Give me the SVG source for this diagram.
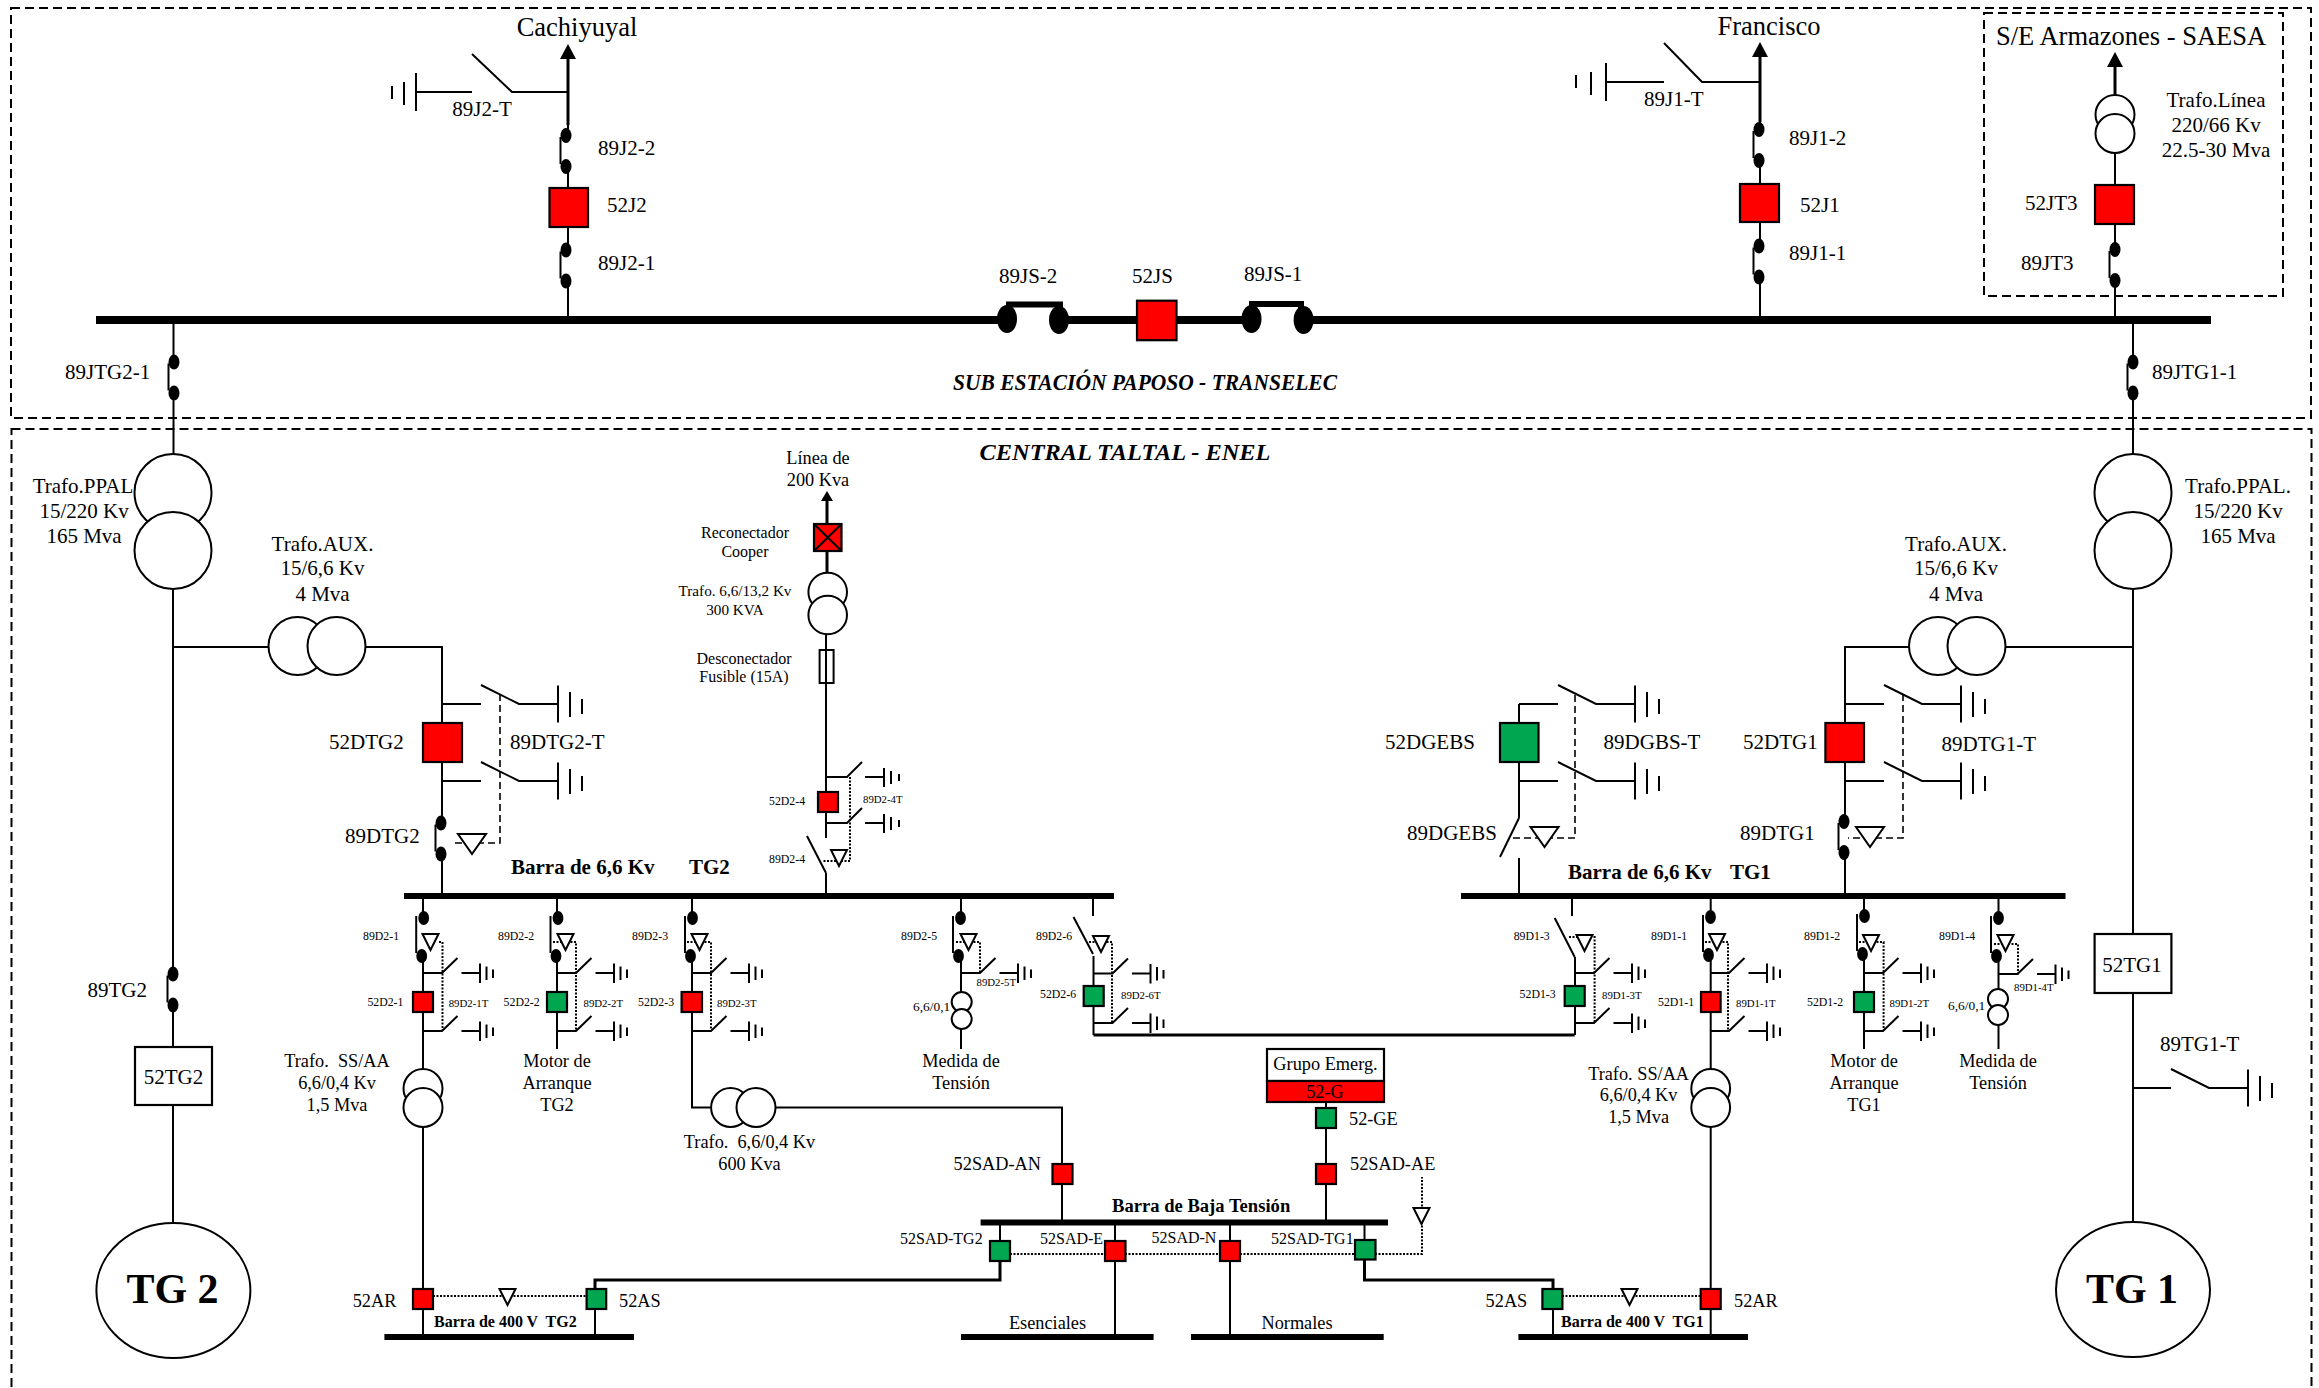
<svg xmlns="http://www.w3.org/2000/svg" xmlns:xlink="http://www.w3.org/1999/xlink" width="2319" height="1388" viewBox="0 0 2319 1388">
<style>
text{font-family:"Liberation Serif","Times New Roman",serif;fill:#000;white-space:pre}
.f26{font-size:26.5px}.f21{font-size:21px}.f18{font-size:18.3px}.f16{font-size:16px}.f15{font-size:15.2px}.f13{font-size:13.4px}.f11{font-size:11.8px}.f10{font-size:10.8px}
.b{font-weight:bold}.bi{font-weight:bold;font-style:italic}.m{text-anchor:middle}
.w{stroke:#000;stroke-width:2;fill:none}.w3{stroke:#000;stroke-width:3;fill:none}
.bus8{stroke:#000;stroke-width:8;fill:none}.bus6{stroke:#000;stroke-width:6;fill:none}
.frame{stroke:#000;stroke-width:2;fill:none;stroke-dasharray:9 5}
.dash{stroke:#000;stroke-width:1.6;fill:none;stroke-dasharray:7 4}
.dot{stroke:#000;stroke-width:2;fill:none;stroke-dasharray:2 1.5}
.red{fill:#f00;stroke:#000;stroke-width:2.2}.green{fill:#00a650;stroke:#000;stroke-width:2.2}.box{fill:#fff;stroke:#000;stroke-width:2.2}
.tr{fill:#fff;stroke:#000;stroke-width:2}.k{fill:#000}
</style>
<defs>
<marker id="arrL" markerUnits="userSpaceOnUse" markerWidth="15" markerHeight="16" refX="0" refY="8" orient="auto"><path d="M0 0L15 8L0 16z"/></marker>
<marker id="arrS" markerUnits="userSpaceOnUse" markerWidth="10" markerHeight="12" refX="0" refY="6" orient="auto"><path d="M0 0L10 6L0 12z"/></marker>
<g id="disc"><ellipse class="k" cx="0" cy="-15.5" rx="5.5" ry="7.5"/><ellipse class="k" cx="0" cy="15.5" rx="5.5" ry="7.5"/><path class="w" d="M-5.5 -14V13"/></g>
<g id="discS"><ellipse class="k" cx="1" cy="-19" rx="5.4" ry="7"/><ellipse class="k" cx="-1" cy="19" rx="5.4" ry="7"/><path class="w" d="M-6.5 -21V16"/></g>
<polygon id="triL" class="tr" points="-14,0 14,0 0,20"/>
<polygon id="triS" class="tr" points="-8,0 8,0 0,16"/>
<g id="swL"><path class="w" d="M0 0H39M39 -19L77 0H116M116 -18.5V18.5M128 -12V13M140 -5V10"/></g>
<g id="swS"><path class="w" d="M0 0H19L34.5 -15M38.5 0H57M57 -9.5V10M63.5 -6.5V7M70 -3.5V5"/></g>
</defs>
<g id="frames">
<rect class="frame" x="11" y="8" width="2300" height="410"/>
<rect class="frame" x="11.5" y="429" width="2300" height="1000"/>
<rect class="frame" x="1984" y="13" width="299" height="283"/>
</g>
<g id="connectors">
<path class="bus8" d="M96 320H1000M1065 320H1137M1176 320H1246M1310 320H2211"/>
<path class="bus6" d="M404 896H1114M1461 896H2065.5M980.6 1222.5H1388M384.4 1337H634M1518.4 1337H1748M961 1337H1153.6M1191 1337H1383.7"/>
<path class="w3" d="M568 125V59" marker-end="url(#arrL)"/>
<path class="w3" d="M1760 122V57" marker-end="url(#arrL)"/>
<path class="w3" d="M2115 95V67" marker-end="url(#arrL)"/>
<path class="w3" d="M827 524V501" marker-end="url(#arrS)"/>
<path class="w" d="M568 125V135M568 167V188M568 227V250M568 281V316M1760 122V129M1760 161V184M1760 222V246M1760 277V316M2115 153V185M2115 224V249M2115 281V316"/>
<path class="w" d="M173.5 324V362M173.5 393V454M173 589V974M173 1005V1047M173 1105V1223M173 647H269M365 647H442V723M442 762V823M442 854V893"/>
<path class="w" d="M2133 324V362M2133 393V454M2133 589V934M2133 993V1222M2133 647H2005M1909 647H1845V723M1845 762V821M1845 853V893"/>
<path class="w" d="M1519 704V723M1519 762V818M1519 858V893"/>
<path class="w3" d="M827 551V573"/>
<path class="w" d="M826 634V838M826 873V893"/>
<path class="w" d="M423 899V918M423 956V992M423 1012V1069M423 1127V1289M423 1309V1334M557 899V918M557 956V992M557 1012V1049M692 899V918M692 956V992M692 1012V1107.5H711M775.5 1107.5H1062V1164M1062 1184V1220M961 899V918M961 956V992M961 1029V1049M1093 899V916M1093.5 956V986M1093.5 1006V1035"/>
<path class="w3" d="M1093.5 1035H1574.7"/>
<path class="w" d="M1572 899V916M1575 957V986M1575 1006V1035M1710.7 899V916M1710.7 956V992M1710.7 1012V1069M1710.7 1127V1289M1710.7 1309V1334M1864 899V916M1864 954V992M1864 1012V1049M1998.5 899V918M1998.5 956V989M1998.5 1024V1049"/>
<path class="w" d="M1326 1102V1108M1326 1128V1164M1326 1184V1220M1000 1225V1241M1115 1225V1241M1115 1261V1334M1230 1225V1241M1230 1261V1334M1364.5 1225V1240M595 1309V1334M1553 1309V1334"/>
<path class="w3" d="M1000 1261V1280H595V1289M1364.5 1259V1280H1553V1289"/>
<path class="dash" d="M500 694V843H451M1575 695V838H1513M1903 694V838H1848"/>
<path class="dot" d="M850 777V861H823M439 942H442.5V1030M553 942H576V1030M687 942H711V1030M956 942H980V973M1089 942H1112V1023M1569 937H1594.6V1023M1705 942H1728V1031M1859 942H1883.6V1031M1994 944H2018V975"/>
<path class="dot" d="M433 1296H586.6M1562 1296H1700.7M1010 1254H1105M1125 1254H1220M1240 1254H1355M1375 1254H1422V1177"/>
</g>
<g id="n-cachiyuyal"><text class="f26 m" x="577" y="36">Cachiyuyal</text></g>
<g id="n-89J2-T"><path class="w" d="M568 92H512L472 54M472 92H416M416 73V111M404 82V105M392 86V99"/><text class="f21 m" x="482" y="116">89J2-T</text></g>
<g id="n-89J2-2"><use href="#disc" xlink:href="#disc" x="566" y="151"/><text class="f21" x="598" y="155">89J2-2</text></g>
<g id="n-52J2"><rect class="red" x="549.5" y="188" width="38.5" height="39"/><text class="f21" x="607" y="212">52J2</text></g>
<g id="n-89J2-1"><use href="#disc" xlink:href="#disc" x="566" y="265.5"/><text class="f21" x="598" y="270">89J2-1</text></g>
<g id="n-89JTG2-1"><use href="#disc" xlink:href="#disc" x="174" y="377.5"/><text class="f21" x="65" y="379">89JTG2-1</text></g>
<g id="n-89JS-2"><ellipse class="k" cx="1007" cy="319" rx="10" ry="14"/><ellipse class="k" cx="1059" cy="320" rx="10" ry="14"/><path class="w" style="stroke-width:6" d="M1009 312V304.5H1060V312"/><text class="f21" x="999" y="283">89JS-2</text></g>
<g id="n-52JS"><rect class="red" x="1137" y="300.7" width="39.5" height="39.5"/><text class="f21" x="1132" y="283">52JS</text></g>
<g id="n-89JS-1"><ellipse class="k" cx="1251.5" cy="319" rx="10" ry="14"/><ellipse class="k" cx="1303.6" cy="320" rx="10" ry="14"/><path class="w" style="stroke-width:6" d="M1252 312V304H1301V312"/><text class="f21" x="1244" y="281">89JS-1</text></g>
<g id="n-paposo"><text class="bi" style="font-size:23px" x="953" y="390" textLength="384" lengthAdjust="spacingAndGlyphs">SUB ESTACIÓN PAPOSO - TRANSELEC</text></g>
<g id="n-taltal"><text class="bi" style="font-size:24px" x="979.5" y="460" textLength="291" lengthAdjust="spacingAndGlyphs">CENTRAL TALTAL - ENEL</text></g>
<g id="n-francisco"><text class="f26 m" x="1769" y="35">Francisco</text></g>
<g id="n-89J1-T"><path class="w" d="M1760 82H1702L1664 43M1664 82H1606M1606 63V101M1591 72V95M1576 75V88"/><text class="f21" x="1644" y="106">89J1-T</text></g>
<g id="n-89J1-2"><use href="#disc" xlink:href="#disc" x="1759" y="145"/><text class="f21" x="1789" y="145">89J1-2</text></g>
<g id="n-52J1"><rect class="red" x="1740" y="184" width="39" height="38"/><text class="f21" x="1800" y="212">52J1</text></g>
<g id="n-89J1-1"><use href="#disc" xlink:href="#disc" x="1759" y="261.5"/><text class="f21" x="1789" y="260">89J1-1</text></g>
<g id="n-armazones"><text class="f26" x="1996" y="45">S/E Armazones - SAESA</text></g>
<g id="n-trafo-linea"><circle class="tr" cx="2115" cy="114.5" r="19.5"/><circle class="tr" cx="2115" cy="133.5" r="19.5"/><text class="f21 m" x="2216" y="107">Trafo.Línea</text><text class="f21 m" x="2216" y="132">220/66 Kv</text><text class="f21 m" x="2216" y="157">22.5-30 Mva</text></g>
<g id="n-52JT3"><rect class="red" x="2095" y="185" width="39" height="39"/><text class="f21" x="2025" y="210">52JT3</text></g>
<g id="n-89JT3"><use href="#disc" xlink:href="#disc" x="2115" y="265"/><text class="f21" x="2021" y="270">89JT3</text></g>
<g id="n-89JTG1-1"><use href="#disc" xlink:href="#disc" x="2133" y="377.5"/><text class="f21" x="2152" y="379">89JTG1-1</text></g>
<g id="n-trafo-ppal-2"><circle class="tr" cx="173" cy="492.5" r="38.5"/><circle class="tr" cx="173" cy="550.5" r="38.5"/><text class="f21 m" x="83" y="493">Trafo.PPAL</text><text class="f21 m" x="84" y="518">15/220 Kv</text><text class="f21 m" x="84" y="543">165 Mva</text></g>
<g id="n-trafo-ppal-1"><circle class="tr" cx="2133" cy="492.5" r="38.5"/><circle class="tr" cx="2133" cy="550.5" r="38.5"/><text class="f21 m" x="2238" y="493">Trafo.PPAL.</text><text class="f21 m" x="2238" y="518">15/220 Kv</text><text class="f21 m" x="2238" y="543">165 Mva</text></g>
<g id="n-trafo-aux-2"><circle class="tr" cx="297.5" cy="646" r="29"/><circle class="tr" cx="336.5" cy="646" r="29"/><text class="f21 m" x="322.5" y="551">Trafo.AUX.</text><text class="f21 m" x="322.5" y="575">15/6,6 Kv</text><text class="f21 m" x="322.5" y="601">4 Mva</text></g>
<g id="n-trafo-aux-1"><circle class="tr" cx="1938" cy="646" r="29"/><circle class="tr" cx="1976.5" cy="646" r="29"/><text class="f21 m" x="1956" y="551">Trafo.AUX.</text><text class="f21 m" x="1956" y="575">15/6,6 Kv</text><text class="f21 m" x="1956" y="601">4 Mva</text></g>
<g id="n-52DTG2"><rect class="red" x="423" y="723" width="39" height="39"/><text class="f21" x="329" y="749">52DTG2</text></g>
<g id="n-89DTG2-T"><use href="#swL" xlink:href="#swL" x="442" y="704"/><use href="#swL" xlink:href="#swL" x="442" y="781"/><text class="f21" x="510" y="749">89DTG2-T</text></g>
<g id="n-89DTG2"><use href="#disc" xlink:href="#disc" x="441" y="838.5"/><use href="#triL" xlink:href="#triL" x="472" y="834"/><text class="f21" x="345" y="843">89DTG2</text></g>
<g id="n-52DGEBS"><rect class="green" x="1500" y="723" width="38.5" height="39"/><text class="f21" x="1385" y="749">52DGEBS</text></g>
<g id="n-89DGBS-T"><use href="#swL" xlink:href="#swL" x="1519" y="704"/><use href="#swL" xlink:href="#swL" x="1519" y="781"/><text class="f21" x="1603.6" y="749">89DGBS-T</text></g>
<g id="n-89DGEBS"><path class="w" d="M1519 818L1500 857"/><use href="#triL" xlink:href="#triL" x="1544.5" y="827"/><text class="f21" x="1407" y="840">89DGEBS</text></g>
<g id="n-52DTG1"><rect class="red" x="1825.4" y="723" width="38.6" height="39"/><text class="f21" x="1743" y="749">52DTG1</text></g>
<g id="n-89DTG1-T"><use href="#swL" xlink:href="#swL" x="1845" y="704"/><use href="#swL" xlink:href="#swL" x="1845" y="781"/><text class="f21" x="1941.5" y="751">89DTG1-T</text></g>
<g id="n-89DTG1"><use href="#disc" xlink:href="#disc" x="1844" y="837"/><use href="#triL" xlink:href="#triL" x="1870" y="827"/><text class="f21" x="1740" y="840">89DTG1</text></g>
<g id="n-linea-200"><text class="f18 m" x="818" y="464">Línea de</text><text class="f18 m" x="818" y="486">200 Kva</text></g>
<g id="n-reconectador"><rect class="red" x="814" y="524" width="27.5" height="27"/><path class="w" d="M814 524L841.5 551M841.5 524L814 551"/><text class="f16 m" x="745" y="538">Reconectador</text><text class="f16 m" x="745" y="557">Cooper</text></g>
<g id="n-trafo-13"><circle class="tr" cx="827.7" cy="592" r="19.3"/><circle class="tr" cx="827.7" cy="615" r="19.3"/><text class="f15 m" x="735" y="596">Trafo. 6,6/13,2 Kv</text><text class="f15 m" x="735" y="615">300 KVA</text></g>
<g id="n-fusible"><rect class="w" x="819.6" y="650" width="14" height="33"/><text class="f16 m" x="744" y="664">Desconectador</text><text class="f16 m" x="744" y="682">Fusible (15A)</text></g>
<g id="n-52D2-4"><rect class="red" x="818" y="792" width="20" height="20"/><text class="f11" x="769" y="805">52D2-4</text></g>
<g id="n-89D2-4T"><path class="w" d="M826 777H847L862 762M865 777H884M884 768V787M891 771V784M899 774V781M826 823H847L862 808M865 823H884M884 814V833M891 817V830M899 820V827"/><text class="f10" x="863" y="803">89D2-4T</text></g>
<g id="n-89D2-4"><path class="w" d="M807 836L826 873"/><use href="#triS" xlink:href="#triS" x="839" y="850"/><text class="f11" x="769" y="863">89D2-4</text></g>
<g id="n-89TG2"><use href="#disc" xlink:href="#disc" x="173" y="989.5"/><text class="f21" x="87.5" y="997">89TG2</text></g>
<g id="n-52TG2"><rect class="box" x="135" y="1047" width="77" height="58"/><text class="f21 m" x="173.5" y="1084">52TG2</text></g>
<g id="n-TG2"><ellipse class="tr" cx="173.4" cy="1290.5" rx="77" ry="67.5"/><text class="b m" style="font-size:42px" x="172.5" y="1303">TG 2</text></g>
<g id="n-TG1"><ellipse class="tr" cx="2133" cy="1289.5" rx="77" ry="67.5"/><text class="b m" style="font-size:42px" x="2132" y="1303">TG 1</text></g>
<g id="n-52TG1"><rect class="box" x="2094.6" y="934" width="76.8" height="59"/><text class="f21 m" x="2132" y="972">52TG1</text></g>
<g id="n-89TG1-T"><use href="#swL" xlink:href="#swL" x="2132" y="1088"/><text class="f21" x="2160" y="1051">89TG1-T</text></g>
<g id="n-barra-tg2"><text class="f21 b" x="511" y="874">Barra de 6,6 Kv</text><text class="f21 b" x="689" y="874">TG2</text></g>
<g id="n-barra-tg1"><text class="f21 b" x="1568" y="879">Barra de 6,6 Kv</text><text class="f21 b" x="1730" y="879">TG1</text></g>
<g id="n-89D2-1"><use href="#discS" xlink:href="#discS" x="422.7" y="937"/><use href="#triS" xlink:href="#triS" x="430.5" y="934"/><text class="f11" x="363" y="940">89D2-1</text></g>
<g id="n-52D2-1"><rect class="red" x="413" y="992" width="20" height="20"/><text class="f11" x="367.4" y="1006">52D2-1</text></g>
<g id="n-89D2-1T"><use href="#swS" xlink:href="#swS" x="423" y="973"/><use href="#swS" xlink:href="#swS" x="423" y="1031"/><text class="f10" x="448.7" y="1007">89D2-1T</text></g>
<g id="n-trafo-ss-2"><circle class="tr" cx="423" cy="1088.5" r="19.5"/><circle class="tr" cx="423" cy="1107.5" r="19.5"/><text class="f18 m" x="337" y="1067">Trafo.  SS/AA</text><text class="f18 m" x="337" y="1089">6,6/0,4 Kv</text><text class="f18 m" x="337" y="1111">1,5 Mva</text></g>
<g id="n-89D2-2"><use href="#discS" xlink:href="#discS" x="557" y="937"/><use href="#triS" xlink:href="#triS" x="565.5" y="934"/><text class="f11" x="498" y="940">89D2-2</text></g>
<g id="n-52D2-2"><rect class="green" x="547" y="992" width="20" height="20"/><text class="f11" x="503.6" y="1006">52D2-2</text></g>
<g id="n-89D2-2T"><use href="#swS" xlink:href="#swS" x="557" y="973"/><use href="#swS" xlink:href="#swS" x="557" y="1031"/><text class="f10" x="583.5" y="1007">89D2-2T</text></g>
<g id="n-motor-2"><text class="f18 m" x="557" y="1067">Motor de</text><text class="f18 m" x="557" y="1089">Arranque</text><text class="f18 m" x="557" y="1111">TG2</text></g>
<g id="n-89D2-3"><use href="#discS" xlink:href="#discS" x="691.5" y="937"/><use href="#triS" xlink:href="#triS" x="699.5" y="934"/><text class="f11" x="632" y="940">89D2-3</text></g>
<g id="n-52D2-3"><rect class="red" x="681.6" y="992" width="20.4" height="20"/><text class="f11" x="638" y="1006">52D2-3</text></g>
<g id="n-89D2-3T"><use href="#swS" xlink:href="#swS" x="692" y="973"/><use href="#swS" xlink:href="#swS" x="692" y="1031"/><text class="f10" x="717" y="1007">89D2-3T</text></g>
<g id="n-trafo-600"><circle class="tr" cx="730.6" cy="1107.5" r="19.5"/><circle class="tr" cx="756" cy="1107.5" r="19.5"/><text class="f18 m" x="749.5" y="1148">Trafo.  6,6/0,4 Kv</text><text class="f18 m" x="749.5" y="1170">600 Kva</text></g>
<g id="n-89D2-5"><use href="#discS" xlink:href="#discS" x="959.5" y="937"/><use href="#triS" xlink:href="#triS" x="968.5" y="934"/><text class="f11" x="901" y="940">89D2-5</text></g>
<g id="n-89D2-5T"><use href="#swS" xlink:href="#swS" x="961" y="973"/><text class="f10" x="976.5" y="986">89D2-5T</text></g>
<g id="n-medida-2"><circle class="tr" cx="961.7" cy="1002" r="10"/><circle class="tr" cx="961.7" cy="1019" r="10"/><text class="f13" x="913" y="1011">6,6/0,1</text><text class="f18 m" x="961" y="1067">Medida de</text><text class="f18 m" x="961" y="1089">Tensión</text></g>
<g id="n-89D2-6"><path class="w" d="M1073.5 917L1093 954"/><use href="#triS" xlink:href="#triS" x="1101" y="936"/><text class="f11" x="1036" y="940">89D2-6</text></g>
<g id="n-52D2-6"><rect class="green" x="1083.7" y="986" width="20" height="20"/><text class="f11" x="1040" y="998">52D2-6</text></g>
<g id="n-89D2-6T"><use href="#swS" xlink:href="#swS" x="1093.5" y="973.5"/><use href="#swS" xlink:href="#swS" x="1093.5" y="1023"/><text class="f10" x="1121" y="999">89D2-6T</text></g>
<g id="n-89D1-3"><path class="w" d="M1554.7 918L1574.7 957"/><use href="#triS" xlink:href="#triS" x="1584.5" y="935"/><text class="f11" x="1513.7" y="940">89D1-3</text></g>
<g id="n-52D1-3"><rect class="green" x="1564.7" y="986" width="20" height="20"/><text class="f11" x="1519.6" y="998">52D1-3</text></g>
<g id="n-89D1-3T"><use href="#swS" xlink:href="#swS" x="1575" y="973"/><use href="#swS" xlink:href="#swS" x="1575" y="1023"/><text class="f10" x="1602" y="999">89D1-3T</text></g>
<g id="n-89D1-1"><use href="#discS" xlink:href="#discS" x="1709.5" y="936"/><use href="#triS" xlink:href="#triS" x="1717" y="934"/><text class="f11" x="1651" y="940">89D1-1</text></g>
<g id="n-52D1-1"><rect class="red" x="1701" y="992" width="19.6" height="20"/><text class="f11" x="1658" y="1006">52D1-1</text></g>
<g id="n-89D1-1T"><use href="#swS" xlink:href="#swS" x="1710" y="973"/><use href="#swS" xlink:href="#swS" x="1710" y="1031"/><text class="f10" x="1736" y="1007">89D1-1T</text></g>
<g id="n-trafo-ss-1"><circle class="tr" cx="1710.7" cy="1088.5" r="19.4"/><circle class="tr" cx="1710.7" cy="1107.5" r="19.4"/><text class="f18 m" x="1638.6" y="1080">Trafo. SS/AA</text><text class="f18 m" x="1638.6" y="1101">6,6/0,4 Kv</text><text class="f18 m" x="1638.6" y="1123">1,5 Mva</text></g>
<g id="n-89D1-2"><use href="#discS" xlink:href="#discS" x="1863.5" y="935"/><use href="#triS" xlink:href="#triS" x="1871" y="935"/><text class="f11" x="1804" y="940">89D1-2</text></g>
<g id="n-52D1-2"><rect class="green" x="1854" y="992" width="20" height="20"/><text class="f11" x="1807" y="1006">52D1-2</text></g>
<g id="n-89D1-2T"><use href="#swS" xlink:href="#swS" x="1864" y="973"/><use href="#swS" xlink:href="#swS" x="1864" y="1031"/><text class="f10" x="1889.5" y="1007">89D1-2T</text></g>
<g id="n-motor-1"><text class="f18 m" x="1864" y="1067">Motor de</text><text class="f18 m" x="1864" y="1089">Arranque</text><text class="f18 m" x="1864" y="1111">TG1</text></g>
<g id="n-89D1-4"><use href="#discS" xlink:href="#discS" x="1997.5" y="937"/><use href="#triS" xlink:href="#triS" x="2005.5" y="935"/><text class="f11" x="1939" y="940">89D1-4</text></g>
<g id="n-89D1-4T"><use href="#swS" xlink:href="#swS" x="1998.5" y="974"/><text class="f10" x="2014" y="991">89D1-4T</text></g>
<g id="n-medida-1"><circle class="tr" cx="1998" cy="999" r="10"/><circle class="tr" cx="1998" cy="1015" r="10"/><text class="f13" x="1948" y="1010">6,6/0,1</text><text class="f18 m" x="1998" y="1067">Medida de</text><text class="f18 m" x="1998" y="1089">Tensión</text></g>
<g id="n-grupo"><rect class="box" x="1267" y="1049" width="117" height="32"/><rect class="red" x="1267" y="1081" width="117" height="21"/><text class="f18 m" x="1325.5" y="1070">Grupo Emerg.</text><text class="f18 m" x="1325" y="1098">52-G</text></g>
<g id="n-52-GE"><rect class="green" x="1316" y="1108" width="20" height="20"/><text class="f18" x="1349" y="1125">52-GE</text></g>
<g id="n-52SAD-AE"><rect class="red" x="1316" y="1164" width="20" height="20"/><text class="f18" x="1350" y="1170">52SAD-AE</text><use href="#triS" xlink:href="#triS" x="1421.5" y="1208"/></g>
<g id="n-52SAD-AN"><rect class="red" x="1052.5" y="1164" width="20" height="20"/><text class="f18" x="953.6" y="1170">52SAD-AN</text></g>
<g id="n-barra-baja"><text class="b" style="font-size:18.6px" x="1112" y="1212">Barra de Baja Tensión</text></g>
<g id="n-52SAD-TG2"><rect class="green" x="990" y="1241" width="20" height="20"/><text class="f16" x="900" y="1244">52SAD-TG2</text></g>
<g id="n-52SAD-E"><rect class="red" x="1105" y="1241" width="20.5" height="20"/><text class="f16" x="1040" y="1244">52SAD-E</text></g>
<g id="n-52SAD-N"><rect class="red" x="1220" y="1241" width="20" height="20"/><text class="f16" x="1151.5" y="1243">52SAD-N</text></g>
<g id="n-52SAD-TG1"><rect class="green" x="1355" y="1240" width="20.5" height="19.5"/><text class="f16" x="1271" y="1244">52SAD-TG1</text></g>
<g id="n-esenciales"><text class="f18 m" x="1047.5" y="1329">Esenciales</text></g>
<g id="n-normales"><text class="f18 m" x="1297" y="1329">Normales</text></g>
<g id="n-52AR-2"><rect class="red" x="413" y="1289" width="20" height="20"/><text class="f18" x="352.7" y="1307">52AR</text></g>
<g id="n-52AS-2"><rect class="green" x="586.6" y="1289" width="19.6" height="20"/><text class="f18" x="619" y="1307">52AS</text></g>
<g id="n-barra-400-2"><use href="#triS" xlink:href="#triS" x="507.5" y="1289"/><text class="f16 b" x="434" y="1327">Barra de 400 V  TG2</text></g>
<g id="n-52AS-1"><rect class="green" x="1542.4" y="1289" width="20" height="20"/><text class="f18" x="1485.6" y="1307">52AS</text></g>
<g id="n-52AR-1"><rect class="red" x="1700.7" y="1289" width="20" height="20"/><text class="f18" x="1734" y="1307">52AR</text></g>
<g id="n-barra-400-1"><use href="#triS" xlink:href="#triS" x="1629.5" y="1289"/><text class="f16 b" x="1561" y="1327">Barra de 400 V  TG1</text></g>
</svg>
